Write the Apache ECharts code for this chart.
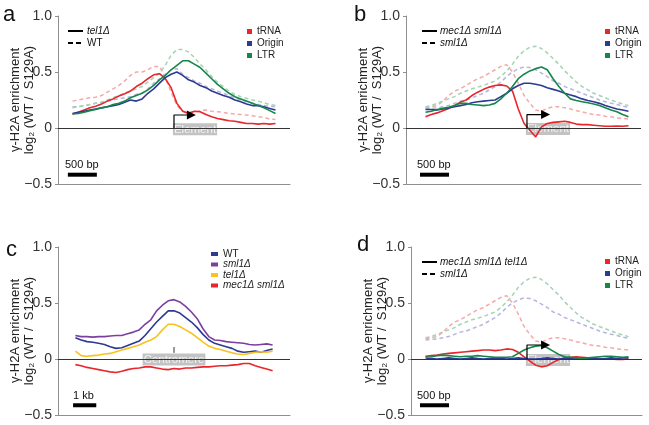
<!DOCTYPE html>
<html><head><meta charset="utf-8">
<script src="https://cdn.jsdelivr.net/npm/echarts@6/dist/echarts.min.js"></script>
<style>html,body{margin:0;padding:0;background:#fff}#chart{width:649px;height:425px}</style>
</head><body><div id="chart"></div>
<script>
// ---- positions (bp relative to element / centromere) ----
const posElement = [-1750,-1650,-1550,-1450,-1350,-1250,-1150,-1050,-950,-850,-750,-650,-550,-450,-350,-250,-150,-50,50,150,250,350,450,550,650,750,850,950,1050,1150,1250,1350,1450,1550,1650,1750];
const posCentromere = [-4250,-4000,-3750,-3500,-3250,-3000,-2750,-2500,-2250,-2000,-1750,-1500,-1250,-1000,-750,-500,-250,0,250,500,750,1000,1250,1500,1750,2000,2250,2500,2750,3000,3250,3500,3750,4000,4250];
const yTicks = [-0.5, 0, 0.5, 1.0];

// ---- panel a: tel1Δ (solid) vs WT (dashed) ----
const a_tRNA_tel1 = [0.125,0.14,0.16,0.18,0.195,0.215,0.24,0.26,0.285,0.305,0.33,0.37,0.40,0.44,0.475,0.485,0.44,0.36,0.22,0.15,0.13,0.15,0.145,0.12,0.10,0.085,0.075,0.065,0.06,0.05,0.04,0.04,0.035,0.04,0.035,0.04];
const a_Origin_tel1 = [0.13,0.14,0.15,0.16,0.17,0.18,0.19,0.20,0.21,0.23,0.25,0.24,0.26,0.31,0.35,0.40,0.45,0.48,0.50,0.47,0.43,0.41,0.38,0.36,0.33,0.31,0.29,0.275,0.25,0.235,0.215,0.20,0.20,0.19,0.175,0.16];
const a_LTR_tel1 = [0.125,0.13,0.14,0.155,0.165,0.18,0.19,0.21,0.22,0.24,0.27,0.29,0.31,0.34,0.38,0.43,0.47,0.52,0.56,0.60,0.60,0.57,0.54,0.49,0.44,0.39,0.35,0.31,0.28,0.26,0.24,0.22,0.20,0.18,0.155,0.13];
const a_tRNA_WT = [0.24,0.25,0.26,0.27,0.275,0.29,0.32,0.35,0.38,0.42,0.47,0.50,0.50,0.52,0.55,0.55,0.45,0.32,0.20,0.15,0.14,0.14,0.155,0.16,0.15,0.145,0.14,0.13,0.125,0.12,0.115,0.11,0.10,0.095,0.08,0.075];
const a_Origin_WT = [0.19,0.19,0.20,0.21,0.22,0.23,0.24,0.25,0.26,0.27,0.28,0.30,0.31,0.35,0.40,0.44,0.48,0.52,0.53,0.48,0.45,0.42,0.40,0.37,0.35,0.33,0.31,0.29,0.27,0.25,0.235,0.22,0.21,0.20,0.195,0.19];
const a_LTR_WT = [0.18,0.19,0.20,0.21,0.22,0.23,0.25,0.27,0.29,0.31,0.33,0.35,0.37,0.41,0.45,0.49,0.56,0.65,0.70,0.70,0.68,0.63,0.57,0.52,0.46,0.41,0.37,0.33,0.30,0.28,0.265,0.25,0.24,0.225,0.21,0.20];

// ---- panel b: mec1Δ sml1Δ (solid) vs sml1Δ (dashed) ----
const b_tRNA_mec = [0.10,0.12,0.135,0.155,0.175,0.20,0.23,0.25,0.29,0.32,0.345,0.365,0.38,0.385,0.375,0.33,0.17,0.04,-0.02,-0.08,0.01,0.04,0.05,0.055,0.06,0.05,0.035,0.03,0.03,0.025,0.02,0.015,0.015,0.018,0.015,0.02];
const b_Origin_mec = [0.165,0.165,0.16,0.17,0.18,0.19,0.20,0.21,0.225,0.235,0.24,0.245,0.25,0.28,0.31,0.35,0.38,0.40,0.40,0.39,0.38,0.36,0.345,0.33,0.31,0.295,0.28,0.26,0.245,0.235,0.22,0.20,0.185,0.17,0.16,0.15];
const b_LTR_mec = [0.14,0.15,0.165,0.175,0.185,0.20,0.22,0.22,0.21,0.205,0.20,0.205,0.22,0.26,0.31,0.37,0.44,0.48,0.51,0.53,0.545,0.52,0.44,0.37,0.31,0.26,0.245,0.235,0.225,0.215,0.20,0.18,0.16,0.145,0.12,0.10];
const sml1_tRNA = [0.18,0.19,0.20,0.24,0.29,0.33,0.35,0.38,0.41,0.44,0.46,0.49,0.52,0.55,0.565,0.50,0.40,0.29,0.22,0.16,0.15,0.175,0.19,0.19,0.18,0.17,0.155,0.145,0.13,0.12,0.115,0.105,0.10,0.09,0.085,0.08];
const sml1_Origin = [0.17,0.175,0.18,0.19,0.20,0.22,0.24,0.25,0.27,0.29,0.31,0.34,0.37,0.41,0.46,0.50,0.53,0.545,0.54,0.52,0.49,0.46,0.42,0.40,0.37,0.35,0.33,0.31,0.29,0.27,0.25,0.235,0.22,0.21,0.195,0.185];
const sml1_LTR = [0.19,0.20,0.22,0.24,0.26,0.28,0.31,0.33,0.35,0.365,0.38,0.40,0.42,0.46,0.51,0.57,0.64,0.69,0.72,0.73,0.71,0.67,0.62,0.57,0.51,0.46,0.41,0.37,0.34,0.31,0.29,0.27,0.25,0.23,0.215,0.20];

// ---- panel c: centromere ----
const c_WT = [0.19,0.17,0.155,0.15,0.14,0.13,0.11,0.095,0.10,0.12,0.14,0.16,0.21,0.27,0.33,0.38,0.43,0.43,0.41,0.37,0.33,0.28,0.22,0.17,0.14,0.125,0.11,0.095,0.07,0.06,0.065,0.07,0.06,0.075,0.09];
const c_sml1 = [0.21,0.20,0.20,0.195,0.20,0.20,0.205,0.21,0.21,0.225,0.24,0.26,0.31,0.35,0.43,0.48,0.52,0.53,0.51,0.47,0.42,0.36,0.27,0.20,0.17,0.165,0.155,0.15,0.145,0.14,0.13,0.125,0.13,0.135,0.125];
const c_tel1 = [0.07,0.03,0.025,0.03,0.035,0.045,0.05,0.065,0.08,0.095,0.11,0.125,0.15,0.17,0.20,0.26,0.31,0.31,0.29,0.26,0.23,0.19,0.15,0.115,0.095,0.085,0.07,0.055,0.045,0.04,0.05,0.06,0.065,0.06,0.07];
const c_mec1sml1 = [-0.05,-0.06,-0.075,-0.085,-0.095,-0.105,-0.115,-0.12,-0.11,-0.095,-0.085,-0.08,-0.07,-0.07,-0.08,-0.09,-0.095,-0.085,-0.09,-0.08,-0.08,-0.075,-0.07,-0.07,-0.065,-0.06,-0.06,-0.055,-0.05,-0.04,-0.04,-0.06,-0.075,-0.09,-0.105];

// ---- panel d: mec1Δ sml1Δ tel1Δ (solid) vs sml1Δ (dashed) ----
const d_tRNA = [0.025,0.03,0.035,0.045,0.05,0.055,0.06,0.065,0.07,0.075,0.08,0.08,0.075,0.08,0.09,0.085,0.06,0.02,-0.02,-0.055,-0.07,-0.06,-0.03,-0.005,0.01,0.015,0.02,0.015,0.01,0.01,0.005,0,0,-0.005,-0.005,0];
const d_Origin = [0,0.005,0,0.005,0.01,0.005,0,0.005,0.01,0.005,0,0.005,0.01,0.005,0,0.005,0.01,0.005,0,0,0.005,0.01,0.005,0,0.005,0.01,0.005,0.005,0.01,0.005,0,0.005,0.01,0.005,0.01,0.01];
const d_LTR = [0.015,0.02,0.03,0.035,0.03,0.025,0.02,0.025,0.025,0.03,0.025,0.02,0.015,0.015,0.015,0.02,0.05,0.08,0.10,0.115,0.12,0.10,0.07,0.04,0.02,0.015,0.01,0.005,0.01,0.015,0.02,0.025,0.025,0.02,0.015,0.02];

// ---- styling ----
const FONT = '"Liberation Sans", Arial, Helvetica, sans-serif';
const C = {red:'#e8262b', blue:'#2d3a92', green:'#17864a', pink:'#f5a9ab', lav:'#b6b6de', lgreen:'#a3d4b3',
           purple:'#7b3fa0', yellow:'#f7c31c'};

const grids = [
  {left:58, top:16, width:232, height:168},
  {left:406, top:16, width:235, height:168},
  {left:58, top:247, width:232, height:168},
  {left:411, top:247, width:231, height:168}
].map(g => Object.assign(g, {containLabel:false, outerBoundsMode:'none'}));
const xRanges = [[-2000,2000],[-2086,1966],[-5000,5000],[-2000,1983]];

function fmtY(v){ if (v === 0) return '0'; return (v < 0 ? '\u2212' : '') + Math.abs(v).toFixed(1); }

const xAxis = xRanges.map((r,i)=>({type:'value', gridIndex:i, min:r[0], max:r[1],
  axisLine:{show:true, onZero:false, lineStyle:{color:'#8f8f8f', width:1}},
  axisTick:{show:false}, axisLabel:{show:false}, splitLine:{show:false}}));
const yAxis = grids.map((g,i)=>({type:'value', gridIndex:i, min:yTicks[0], max:yTicks[3], interval:0.5,
  axisLine:{show:true, onZero:false, lineStyle:{color:'#8f8f8f', width:1}},
  axisTick:{show:true, length:3, lineStyle:{color:'#8f8f8f'}},
  axisLabel:{fontSize:14, color:'#333', margin:6, fontFamily:FONT, formatter:fmtY},
  splitLine:{show:false},
  name:'\u03b3-H2A enrichment\nlog\u2082 (WT /  S129A)', nameLocation:'middle', nameRotate:90, nameGap:22,
  nameMoveOverlap:false,
  nameTextStyle:{fontSize:13, color:'#222', lineHeight:14, fontFamily:FONT}}));

function line(name, pos, vals, color, dashed, gi){
  return {type:'line', name, xAxisIndex:gi, yAxisIndex:gi, data:pos.map((x,i)=>[x, vals[i]]),
    showSymbol:false, symbol:'none', color, itemStyle:{color},
    lineStyle:{color, width: dashed?1.5:1.6, type: dashed?[4,3]:'solid'},
    z: dashed?2:3, silent:true, animation:false};
}
function zeroLine(gi){
  return {type:'line', xAxisIndex:gi, yAxisIndex:gi, data:[], silent:true, animation:false,
    markLine:{symbol:'none', silent:true, label:{show:false}, animation:false,
      lineStyle:{color:'#333', width:1, type:'solid'}, data:[{yAxis:0}]}};
}
function scaleBar(gi, x0, x1, y){
  return {type:'line', xAxisIndex:gi, yAxisIndex:gi, data:[[x0,y],[x1,y]], showSymbol:false, symbol:'none',
    lineStyle:{color:'#000', width:4}, silent:true, animation:false, z:5};
}
function arrow(gi, top, end){
  return {type:'line', xAxisIndex:gi, yAxisIndex:gi, data:[[0,0],[0,top],[end,top]], showSymbol:false, symbol:'none',
    lineStyle:{color:'#000', width:1.2}, silent:true, animation:false, z:6,
    markPoint:{silent:true, animation:false, symbol:'triangle', symbolSize:[9,9], symbolRotate:-90,
      itemStyle:{color:'#000'}, label:{show:false}, data:[{coord:[end, top]}]}};
}
function boxLabel(gi, x, y, text){
  return {type:'scatter', xAxisIndex:gi, yAxisIndex:gi, data:[[x,y]], symbolSize:1, itemStyle:{color:'rgba(0,0,0,0)'},
    silent:true, animation:false, z:1,
    label:{show:true, position:'inside', formatter:text, color:'#fff', fontSize:11.5, fontFamily:FONT,
      backgroundColor:'#b4b4b4', padding:[1,1,0,1], lineHeight:11}};
}

const series = [
  zeroLine(0), zeroLine(1), zeroLine(2), zeroLine(3),
  boxLabel(0, 362, -0.012, 'Element'), boxLabel(1, 362, -0.01, 'Element'),
  boxLabel(2, 0, -0.005, 'Centromere'), boxLabel(3, 362, -0.01, 'Element'),
  // panel a
  line('tRNA WT', posElement, a_tRNA_WT, C.pink, true, 0),
  line('Origin WT', posElement, a_Origin_WT, C.lav, true, 0),
  line('LTR WT', posElement, a_LTR_WT, C.lgreen, true, 0),
  line('tRNA', posElement, a_tRNA_tel1, C.red, false, 0),
  line('Origin', posElement, a_Origin_tel1, C.blue, false, 0),
  line('LTR', posElement, a_LTR_tel1, C.green, false, 0),
  // panel b
  line('tRNA sml1', posElement, sml1_tRNA, C.pink, true, 1),
  line('Origin sml1', posElement, sml1_Origin, C.lav, true, 1),
  line('LTR sml1', posElement, sml1_LTR, C.lgreen, true, 1),
  line('tRNA', posElement, b_tRNA_mec, C.red, false, 1),
  line('Origin', posElement, b_Origin_mec, C.blue, false, 1),
  line('LTR', posElement, b_LTR_mec, C.green, false, 1),
  // panel c
  line('WT', posCentromere, c_WT, C.blue, false, 2),
  line('sml1\u0394', posCentromere, c_sml1, C.purple, false, 2),
  line('tel1\u0394', posCentromere, c_tel1, C.yellow, false, 2),
  line('mec1\u0394 sml1\u0394', posCentromere, c_mec1sml1, C.red, false, 2),
  // panel d
  line('tRNA sml1', posElement, sml1_tRNA, C.pink, true, 3),
  line('Origin sml1', posElement, sml1_Origin, C.lav, true, 3),
  line('LTR sml1', posElement, sml1_LTR, C.lgreen, true, 3),
  line('tRNA', posElement, d_tRNA, C.red, false, 3),
  line('Origin', posElement, d_Origin, C.blue, false, 3),
  line('LTR', posElement, d_LTR, C.green, false, 3),
  // annotations
  arrow(0, 0.116, 300), arrow(1, 0.12, 320), arrow(3, 0.125, 320),
  {type:'line', xAxisIndex:2, yAxisIndex:2, data:[[0,0.055],[0,0.107]], showSymbol:false, symbol:'none',
    lineStyle:{color:'#333', width:1}, silent:true, animation:false, z:6},
  scaleBar(0, -1830, -1330, -0.417), scaleBar(1, -1845, -1345, -0.417),
  scaleBar(2, -4350, -3350, -0.413), scaleBar(3, -1845, -1345, -0.413)
];

const legendBase = {orient:'vertical', icon:'rect', itemWidth:5, itemHeight:5, itemGap:1, selectedMode:false,
  textStyle:{fontSize:10, color:'#222', lineHeight:11, fontFamily:FONT}, itemStyle:{borderWidth:0}};
const legend = [
  Object.assign({}, legendBase, {data:['tRNA','Origin','LTR'], left:242, top:21}),
  Object.assign({}, legendBase, {data:['tRNA','Origin','LTR'], left:600, top:21}),
  Object.assign({}, legendBase, {data:['WT','sml1\u0394','tel1\u0394','mec1\u0394 sml1\u0394'], left:206, top:244,
    itemWidth:7, itemHeight:4, itemGap:0.5,
    formatter:n => n === 'WT' ? n : '{i|' + n + '}',
    textStyle:{fontSize:10, color:'#222', lineHeight:10, fontFamily:FONT,
      rich:{i:{fontStyle:'italic', fontSize:10, color:'#222', fontFamily:FONT}}}}),
  Object.assign({}, legendBase, {data:['tRNA','Origin','LTR'], left:600, top:251})
];

function txt(x, y, text, font, align){
  return {type:'text', silent:true, style:{x, y, text, font, fill:'#111', align:align||'left', verticalAlign:'middle',
    textAlign:align||'left', textVerticalAlign:'middle'}};
}
function lg(x1, y, dashed){
  return {type:'line', silent:true, shape:{x1, y1:y, x2:x1+15, y2:y},
    style:{stroke:'#000', lineWidth:2, lineDash: dashed?[5,3]:null}};
}
const IT = 'italic 10px ' + FONT, RG = '10px ' + FONT, LET = '22px ' + FONT, SB = '11px ' + FONT;
const graphic = [
  txt(3, 15, 'a', LET), txt(354, 15, 'b', LET), txt(6, 250, 'c', LET), txt(357, 245, 'd', LET),
  lg(68, 31, false), txt(87, 31, 'tel1\u0394', IT), lg(68, 43, true), txt(87, 43, 'WT', RG),
  lg(422, 31, false), txt(440, 31, 'mec1\u0394 sml1\u0394', IT), lg(422, 43, true), txt(440, 43, 'sml1\u0394', IT),
  lg(422, 262, false), txt(440, 262, 'mec1\u0394 sml1\u0394 tel1\u0394', IT), lg(422, 274, true), txt(440, 274, 'sml1\u0394', IT),
  txt(65, 165, '500 bp', SB), txt(417, 165, '500 bp', SB), txt(73, 396, '1 kb', SB), txt(417, 396, '500 bp', SB)
];

const chart = echarts.init(document.getElementById('chart'), null, {renderer:'canvas'});
chart.setOption({animation:false, backgroundColor:'#fff', grid:grids, xAxis, yAxis, series, legend, graphic});
</script></body></html>
